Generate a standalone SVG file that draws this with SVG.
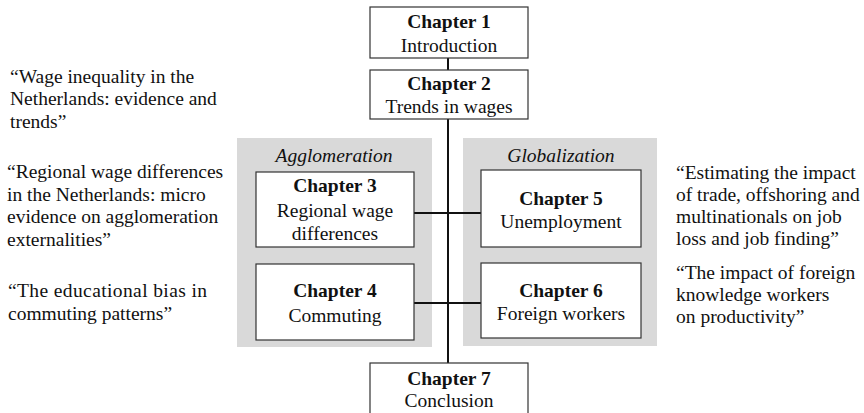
<svg xmlns="http://www.w3.org/2000/svg" width="864" height="413" viewBox="0 0 864 413">
<style>
text { font-family: 'Liberation Serif', 'Times New Roman', serif; font-size: 19.5px; fill: #111; }
.c { text-anchor: middle; }
.b { font-weight: bold; }
.i { font-style: italic; }
.box { fill: #fff; stroke: #333; stroke-width: 1.2; }
.grp { fill: #d9d9d9; stroke: none; }
.con { stroke: #111; stroke-width: 2; fill: none; }
</style>
<rect width="864" height="413" fill="#fff"/>
<g id="group-agglomeration">
  <rect class="grp" x="237" y="138" width="195" height="209"/>
  <text class="c i" x="334" y="162">Agglomeration</text>
</g>
<g id="group-globalization">
  <rect class="grp" x="463" y="138" width="194" height="208"/>
  <text class="c i" x="561" y="162">Globalization</text>
</g>
<g id="connectors">
  <line class="con" x1="448" y1="58" x2="448" y2="70"/>
  <line class="con" x1="448" y1="119" x2="448" y2="363"/>
  <line class="con" x1="414" y1="213" x2="481" y2="213"/>
  <line class="con" x1="414" y1="303" x2="481" y2="303"/>
</g>
<g id="chapter1">
  <rect class="box" x="370" y="7" width="158" height="51"/>
  <text class="c b" x="449" y="28">Chapter 1</text>
  <text class="c" x="449" y="52">Introduction</text>
</g>
<g id="chapter2">
  <rect class="box" x="370" y="70" width="158" height="49"/>
  <text class="c b" x="449" y="90">Chapter 2</text>
  <text class="c" x="449" y="113">Trends in wages</text>
</g>
<g id="chapter3">
  <rect class="box" x="256" y="172" width="158" height="75"/>
  <text class="c b" x="335" y="192">Chapter 3</text>
  <text class="c" x="335" y="217">Regional wage</text>
  <text class="c" x="335" y="240">differences</text>
</g>
<g id="chapter4">
  <rect class="box" x="256" y="264" width="158" height="76"/>
  <text class="c b" x="335" y="297">Chapter 4</text>
  <text class="c" x="335" y="322">Commuting</text>
</g>
<g id="chapter5">
  <rect class="box" x="481" y="170" width="160" height="77"/>
  <text class="c b" x="561" y="205">Chapter 5</text>
  <text class="c" x="561" y="228">Unemployment</text>
</g>
<g id="chapter6">
  <rect class="box" x="481" y="263" width="160" height="75"/>
  <text class="c b" x="561" y="297">Chapter 6</text>
  <text class="c" x="561" y="320">Foreign workers</text>
</g>
<g id="chapter7">
  <rect class="box" x="370" y="363" width="158" height="60"/>
  <text class="c b" x="449" y="385">Chapter 7</text>
  <text class="c" x="449" y="407">Conclusion</text>
</g>
<g id="quote-wage-inequality">
  <text x="10" y="83">“Wage inequality in the</text>
  <text x="10" y="105">Netherlands: evidence and</text>
  <text x="10" y="128">trends”</text>
</g>
<g id="quote-regional">
  <text x="7" y="178">“Regional wage differences</text>
  <text x="7" y="201">in the Netherlands: micro</text>
  <text x="7" y="223">evidence on agglomeration</text>
  <text x="7" y="246">externalities”</text>
</g>
<g id="quote-educational">
  <text x="8" y="297" textLength="199" lengthAdjust="spacing">“The educational bias in</text>
  <text x="8" y="320">commuting patterns”</text>
</g>
<g id="quote-trade">
  <text x="676" y="179">“Estimating the impact</text>
  <text x="676" y="201">of trade, offshoring and</text>
  <text x="676" y="223">multinationals on job</text>
  <text x="676" y="245">loss and job finding”</text>
</g>
<g id="quote-foreign">
  <text x="676" y="279">“The impact of foreign</text>
  <text x="676" y="301">knowledge workers</text>
  <text x="676" y="323">on productivity”</text>
</g>
</svg>
